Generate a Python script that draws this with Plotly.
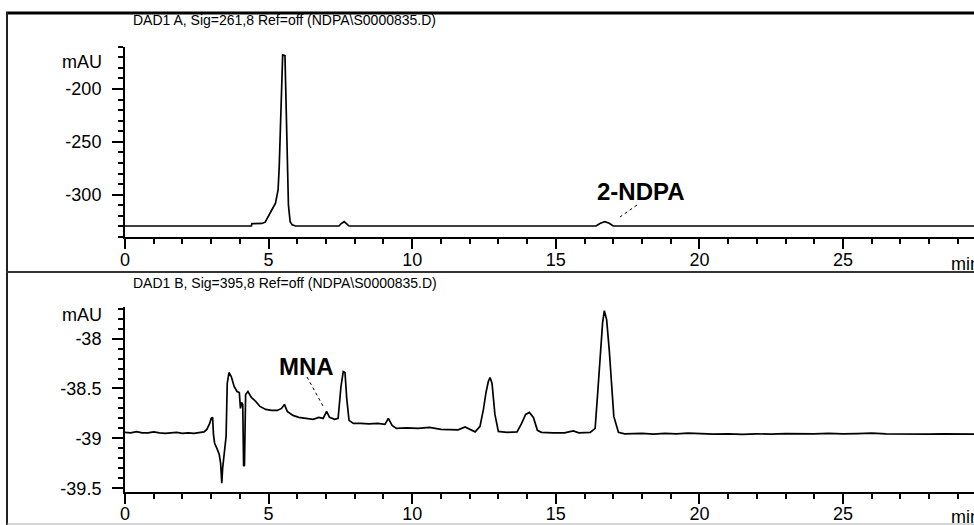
import plotly.graph_objects as go

W, H = 974, 525

# ---------------- data ----------------
a_time = [0.0, 4.40, 4.42, 4.77, 4.88, 5.00, 5.12, 5.24, 5.33, 5.37, 5.42, 5.49, 5.57,
          5.62, 5.66, 5.69, 5.75, 5.82, 5.94, 7.45, 7.52, 7.63, 7.72, 7.80,
          16.40, 16.55, 16.71, 16.86, 17.00, 29.60]
a_mau = [-329.6, -329.6, -327.4, -327.2, -326.0, -320.6, -314.0, -308.0, -295.5, -273.5,
         -235.6, -167.8, -168.5, -231.0, -300.0, -309.7, -325.5, -328.5, -329.6,
         -329.6, -327.5, -325.5, -327.5, -329.6,
         -329.6, -327.0, -325.5, -327.0, -329.6, -329.6]

b_time = [0.0, 0.2, 0.4, 0.6, 0.8, 1.0, 1.2, 1.4, 1.6, 1.8, 2.0, 2.2, 2.4, 2.6, 2.75,
          2.85, 2.95, 3.00, 3.05, 3.08, 3.12, 3.20, 3.28, 3.33, 3.37, 3.40, 3.45, 3.52,
          3.56, 3.62, 3.70, 3.80, 3.90, 3.98, 4.02, 4.06, 4.10, 4.13, 4.16, 4.20, 4.28,
          4.40, 4.55, 4.70, 4.90, 5.10, 5.30, 5.45, 5.55, 5.65, 5.85, 6.05, 6.30, 6.55,
          6.75, 6.90, 7.02, 7.12, 7.30, 7.42, 7.52, 7.60, 7.66, 7.72, 7.80, 7.95, 8.20,
          8.50, 8.80, 9.05, 9.17, 9.30, 9.45, 9.80, 10.20, 10.60, 11.00, 11.30, 11.60,
          11.84, 12.00, 12.19, 12.36, 12.48, 12.57, 12.65, 12.71, 12.78, 12.88, 13.00,
          13.30, 13.65, 13.81, 13.95, 14.08, 14.22, 14.36, 14.50, 14.90, 15.30, 15.61,
          15.80, 16.20, 16.37, 16.45, 16.54, 16.63, 16.69, 16.77, 16.86, 16.94, 17.02,
          17.18, 17.40, 18.0, 18.4, 18.8, 19.2, 19.6, 20.0, 20.5, 21.0, 21.5, 22.0, 22.5,
          23.0, 23.5, 24.0, 24.5, 25.0, 25.5, 26.0, 26.5, 27.0, 27.5, 28.0, 28.5, 29.0,
          29.6]
b_mau = [-38.940, -38.945, -38.932, -38.945, -38.945, -38.935, -38.945, -38.950, -38.945,
         -38.940, -38.950, -38.945, -38.950, -38.940, -38.935,
         -38.910, -38.850, -38.800, -38.790, -38.960, -39.050, -39.100, -39.160, -39.250,
         -39.450, -39.300, -39.180, -38.980,
         -38.450, -38.340, -38.380, -38.480, -38.530, -38.540, -38.700, -38.640, -38.660,
         -39.280, -39.270, -38.560, -38.530,
         -38.590, -38.630, -38.680, -38.710, -38.720, -38.720, -38.700, -38.660, -38.730,
         -38.770, -38.790, -38.800, -38.810,
         -38.790, -38.800, -38.730, -38.790, -38.810, -38.800, -38.480, -38.330, -38.340,
         -38.600, -38.820, -38.850, -38.850,
         -38.855, -38.850, -38.860, -38.800, -38.870, -38.900, -38.895, -38.900, -38.890,
         -38.910, -38.915, -38.915,
         -38.885, -38.910, -38.935, -38.880, -38.710, -38.540, -38.430, -38.390, -38.450,
         -38.760, -38.930,
         -38.940, -38.935, -38.850, -38.760, -38.740, -38.790, -38.920, -38.940, -38.945,
         -38.945, -38.925,
         -38.945, -38.940, -38.900, -38.580, -38.180, -37.840, -37.720, -37.810, -38.110,
         -38.480, -38.780,
         -38.940, -38.955, -38.950, -38.958, -38.950, -38.955, -38.948, -38.955, -38.958,
         -38.955, -38.960, -38.955, -38.958,
         -38.952, -38.955, -38.955, -38.950, -38.955, -38.952, -38.948, -38.955, -38.958,
         -38.955, -38.958, -38.955, -38.955,
         -38.958]

x_major = [0, 5, 10, 15, 20, 25]
x_labels = ["0", "5", "10", "15", "20", "25"]
a_ticks = [-300, -250, -200]
a_labels = ["-300", "-250", "-200"]
b_ticks = [-39.5, -39, -38.5, -38]
b_labels = ["-39.5", "-39", "-38.5", "-38"]

title_a = "DAD1 A, Sig=261,8 Ref=off (NDPA\\S0000835.D)"
title_b = "DAD1 B, Sig=395,8 Ref=off (NDPA\\S0000835.D)"
peak_a_label = "2-NDPA"
peak_b_label = "MNA"
y_unit = "mAU"
x_unit = "min"

# ---------------- figure ----------------
def px(x):
    return x / W

def py(y):
    return 1 - y / H

FONT = "Liberation Sans, Arial, sans-serif"

fig = go.Figure()
fig.add_trace(go.Scatter(x=a_time, y=a_mau, mode="lines",
                         line=dict(color="black", width=1.7),
                         xaxis="x", yaxis="y", hoverinfo="skip"))
fig.add_trace(go.Scatter(x=b_time, y=b_mau, mode="lines",
                         line=dict(color="black", width=1.7),
                         xaxis="x2", yaxis="y2", hoverinfo="skip"))

xdom = [px(125), 1.0]
xcommon = dict(range=[0, 849 / 28.72], showgrid=False, zeroline=False,
               showline=True, linecolor="black", linewidth=2,
               ticks="outside", ticklen=10, tickwidth=2, tickcolor="black",
               tickvals=x_major, ticktext=x_labels, ticklabelstandoff=-5,
               tickfont=dict(family=FONT, size=18, color="black"),
               minor=dict(ticks="outside", ticklen=5, tickwidth=2,
                          tickcolor="black", dtick=1, tick0=0, showgrid=False),
               fixedrange=True, automargin=False, domain=xdom)
ycommon = dict(showgrid=False, zeroline=False, showline=True, linecolor="black",
               linewidth=2, ticks="outside", ticklen=11, tickwidth=2,
               tickcolor="black", ticklabelstandoff=7,
               tickfont=dict(family=FONT, size=18, color="black"),
               fixedrange=True, automargin=False)

fig.update_layout(
    width=W, height=H,
    margin=dict(l=0, r=0, t=0, b=0),
    paper_bgcolor="white", plot_bgcolor="white",
    showlegend=False,
    xaxis=dict(**xcommon, anchor="y"),
    xaxis2=dict(**xcommon, anchor="y2"),
    yaxis=dict(**ycommon, anchor="x", range=[-340, -160],
               domain=[py(237), py(46.7)],
               tickvals=a_ticks, ticktext=a_labels,
               minor=dict(ticks="outside", ticklen=5, tickwidth=2,
                          tickcolor="black", dtick=10, tick0=0, showgrid=False)),
    yaxis2=dict(**ycommon, anchor="x2", range=[-39.535, -37.68],
                domain=[py(491.7), py(306.7)],
                tickvals=b_ticks, ticktext=b_labels,
                minor=dict(ticks="outside", ticklen=5, tickwidth=2,
                           tickcolor="black", dtick=0.1, tick0=0, showgrid=False)),
)

annots = [
    dict(text=title_a, x=px(132), y=py(20), xanchor="left", yanchor="middle",
         font=dict(family=FONT, size=14, color="black")),
    dict(text=title_b, x=px(132), y=py(283), xanchor="left", yanchor="middle",
         font=dict(family=FONT, size=14, color="black")),
    dict(text=y_unit, x=px(103), y=py(62), xanchor="right", yanchor="middle",
         font=dict(family=FONT, size=18, color="black")),
    dict(text=y_unit, x=px(103), y=py(315), xanchor="right", yanchor="middle",
         font=dict(family=FONT, size=18, color="black")),
    dict(text=x_unit, x=px(950), y=py(264), xanchor="left", yanchor="middle",
         font=dict(family=FONT, size=18, color="black")),
    dict(text=x_unit, x=px(950), y=py(517), xanchor="left", yanchor="middle",
         font=dict(family=FONT, size=18, color="black")),
    dict(text="<b>" + peak_a_label + "</b>", x=px(641), y=py(191), xanchor="center",
         yanchor="middle", font=dict(family=FONT, size=24, color="black")),
    dict(text="<b>" + peak_b_label + "</b>", x=px(306), y=py(366), xanchor="center",
         yanchor="middle", font=dict(family=FONT, size=24, color="black")),
]
for a in annots:
    a.update(xref="paper", yref="paper", showarrow=False, borderpad=0)
fig.update_layout(annotations=annots)

shapes = [
    # outer frame
    dict(type="line", x0=px(6), x1=1.0, y0=py(13), y1=py(13),
         line=dict(color="black", width=3)),
    dict(type="line", x0=px(7), x1=px(7), y0=py(12), y1=0,
         line=dict(color="#222222", width=2)),
    dict(type="line", x0=px(7), x1=1.0, y0=py(272), y1=py(272),
         line=dict(color="#333333", width=2)),
    dict(type="line", x0=px(7), x1=1.0, y0=py(524), y1=py(524),
         line=dict(color="#aaaaaa", width=1)),
    # leader lines of the peak labels
    dict(type="line", x0=px(637), y0=py(205), x1=px(620), y1=py(217),
         line=dict(color="black", width=1, dash="dot")),
    dict(type="line", x0=px(307), y0=py(377), x1=px(323), y1=py(406),
         line=dict(color="black", width=1, dash="dot")),
]
for s in shapes:
    s.update(xref="paper", yref="paper")
fig.update_layout(shapes=shapes)

fig.write_html("out.html", config={"displayModeBar": False, "staticPlot": True},
               post_script="document.body.style.margin='0px';"
                           "document.body.style.overflow='hidden';")
